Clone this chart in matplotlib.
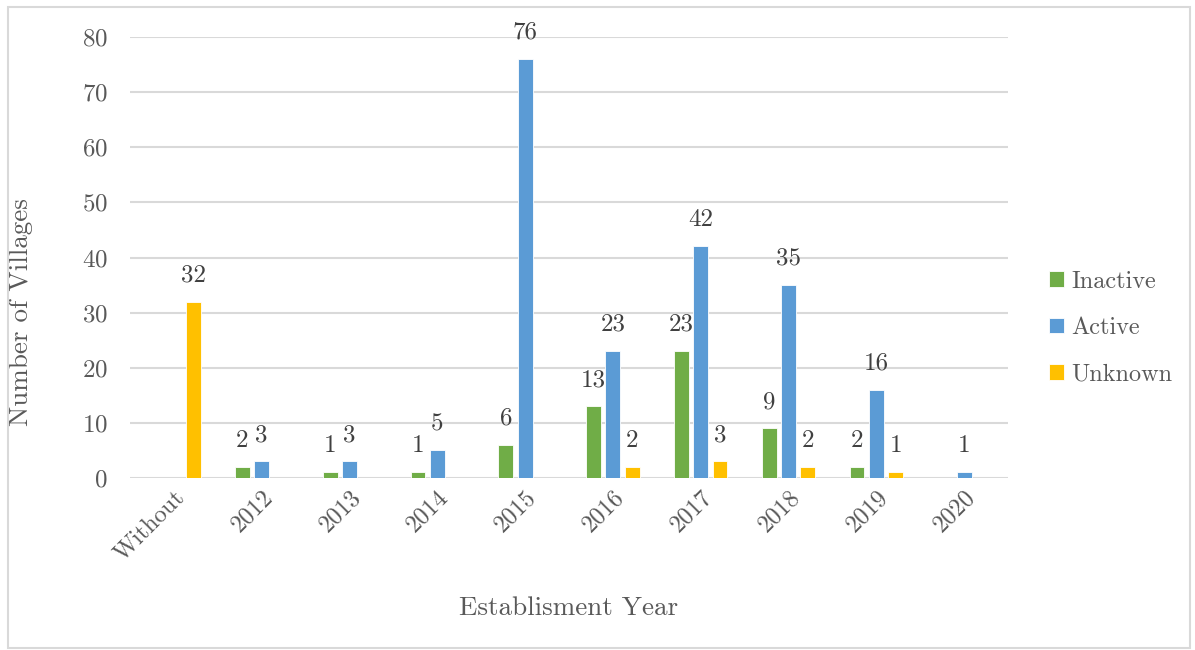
import matplotlib

matplotlib.use("Agg")
import matplotlib.pyplot as plt
import numpy as np
from matplotlib.patches import Rectangle

categories = ["Without", "2012", "2013", "2014", "2015", "2016", "2017", "2018", "2019", "2020"]
inactive = [0, 2, 1, 1, 6, 13, 23, 9, 2, 0]
active = [0, 3, 3, 5, 76, 23, 42, 35, 16, 1]
unknown = [32, 0, 0, 0, 0, 2, 3, 2, 1, 0]
series = [("Inactive", inactive, "#70ad47"), ("Active", active, "#5b9bd5"), ("Unknown", unknown, "#ffc000")]

plt.rcParams["font.family"] = ["cmr10", "DejaVu Serif"]
plt.rcParams["mathtext.fontset"] = "cm"
plt.rcParams["axes.formatter.use_mathtext"] = True

fig = plt.figure(figsize=(11.95, 6.5), dpi=100)
ax = fig.add_axes([130 / 1195, 1 - 478 / 650, 878 / 1195, 441 / 650])

fig.patches.append(Rectangle((8 / 1195, 2 / 650), 1182 / 1195, 641 / 650, transform=fig.transFigure,
                             fill=False, edgecolor="#d9d9d9", linewidth=1.5))

x = np.arange(len(categories))
w = 0.17
step = 0.22
for i, (name, vals, color) in enumerate(series):
    pos = x + (i - 1) * step
    ax.bar(pos, vals, width=w, color=color, label=name, zorder=3,
           edgecolor="white", linewidth=0.6)
    for xp, v in zip(pos, vals):
        if v:
            ax.annotate(str(v), (xp, v), xytext=(0, 19), textcoords="offset points",
                        ha="center", va="center", fontsize=18, color="#404040", zorder=4)

ax.set_xlim(-0.5, len(categories) - 0.5)
ax.set_ylim(0, 80)
ax.set_yticks(range(0, 81, 10))
ax.yaxis.grid(True, color="#d9d9d9", linewidth=1.5, zorder=0)
ax.set_axisbelow(True)
for s in ax.spines.values():
    s.set_visible(False)
ax.tick_params(axis="y", length=0, labelsize=18, labelcolor="#595959", pad=16)
ax.set_xticks(x)
ax.set_xticklabels(categories, rotation=45, ha="right", rotation_mode="anchor")
ax.tick_params(axis="x", length=0, labelsize=17.5, labelcolor="#595959", pad=6)

ax.set_ylabel("Number of Villages", fontsize=19.5, color="#595959")
ax.yaxis.set_label_coords(-0.11, 0.376)
ax.set_xlabel("Establisment Year", fontsize=19.5, color="#595959", labelpad=22)

ax.legend(loc="center left", bbox_to_anchor=(1.022, 0.34), frameon=False, fontsize=17.5,
          labelcolor="#595959", handlelength=0.6, handleheight=0.6, handletextpad=0.3,
          labelspacing=1.0)

fig.savefig("out.png", dpi=100)
